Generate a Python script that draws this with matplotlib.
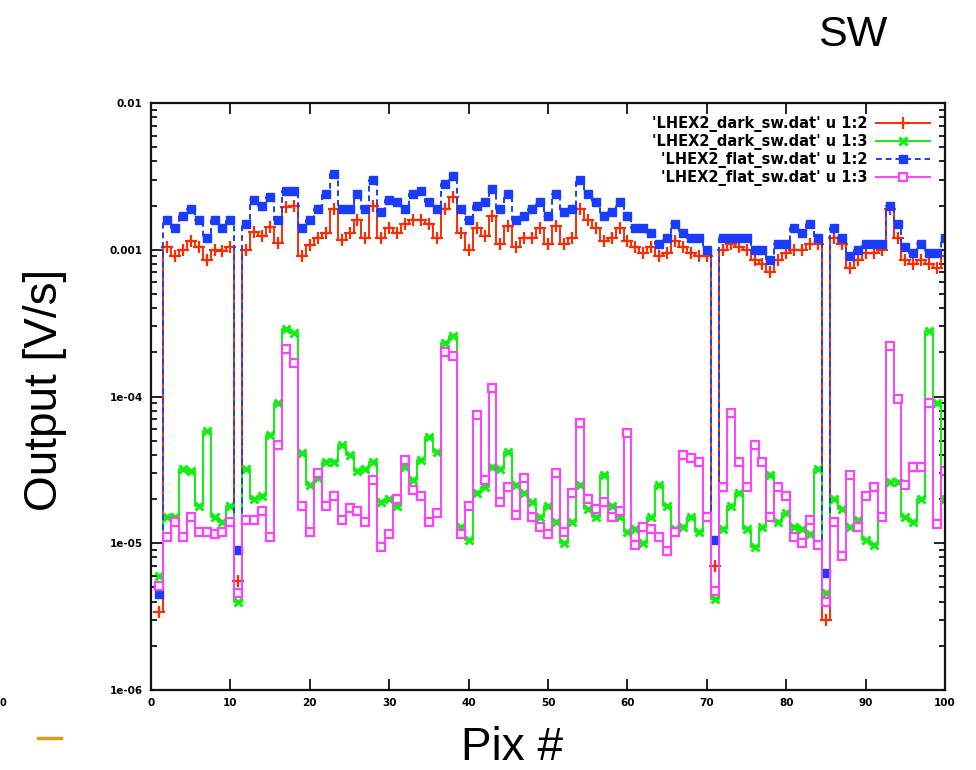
import numpy as np
import matplotlib
matplotlib.use("Agg")
import matplotlib.pyplot as plt
from matplotlib.ticker import FixedLocator, FixedFormatter, LogLocator, NullFormatter
from matplotlib.lines import Line2D

# Pixel index along the detector
pix = np.arange(1, 101)

# 'LHEX2_dark_sw.dat' column 2
dark_col2 = [3.4e-6, 1.05e-3, 0.90e-3, 1.00e-3, 1.15e-3, 1.05e-3, 0.85e-3, 1.00e-3, 0.98e-3, 1.05e-3,
             5.5e-6, 1.00e-3, 1.32e-3, 1.25e-3, 1.43e-3, 1.11e-3, 1.96e-3, 2.00e-3, 0.90e-3, 1.08e-3,
             1.20e-3, 1.30e-3, 1.90e-3, 1.17e-3, 1.30e-3, 1.60e-3, 1.20e-3, 2.00e-3, 1.20e-3, 1.40e-3,
             1.30e-3, 1.50e-3, 1.60e-3, 1.60e-3, 1.50e-3, 1.20e-3, 1.90e-3, 2.30e-3, 1.30e-3, 1.00e-3,
             1.40e-3, 1.25e-3, 1.70e-3, 1.10e-3, 1.45e-3, 1.05e-3, 1.20e-3, 1.20e-3, 1.40e-3, 1.10e-3,
             1.45e-3, 1.10e-3, 1.20e-3, 1.90e-3, 1.60e-3, 1.40e-3, 1.15e-3, 1.20e-3, 1.40e-3, 1.15e-3,
             1.05e-3, 0.95e-3, 1.05e-3, 0.90e-3, 0.95e-3, 1.15e-3, 1.05e-3, 0.95e-3, 0.90e-3, 0.90e-3,
             7.0e-6, 1.00e-3, 1.10e-3, 1.05e-3, 1.00e-3, 0.85e-3, 0.80e-3, 0.70e-3, 0.85e-3, 0.95e-3,
             1.00e-3, 1.00e-3, 1.10e-3, 1.10e-3, 3.0e-6, 1.20e-3, 1.10e-3, 0.75e-3, 0.85e-3, 0.95e-3,
             0.95e-3, 1.00e-3, 1.90e-3, 1.20e-3, 0.85e-3, 0.80e-3, 0.85e-3, 0.80e-3, 0.75e-3, 0.90e-3]

# 'LHEX2_dark_sw.dat' column 3
dark_col3 = [6.0e-6, 1.5e-5, 1.5e-5, 3.2e-5, 3.1e-5, 1.8e-5, 5.8e-5, 1.5e-5, 1.4e-5, 1.8e-5,
             4.0e-6, 3.2e-5, 2.0e-5, 2.1e-5, 5.5e-5, 9.0e-5, 2.9e-4, 2.7e-4, 4.1e-5, 2.5e-5,
             2.8e-5, 3.6e-5, 3.6e-5, 4.7e-5, 4.0e-5, 3.1e-5, 3.2e-5, 3.6e-5, 1.9e-5, 2.0e-5,
             1.8e-5, 3.3e-5, 2.7e-5, 3.7e-5, 5.3e-5, 4.2e-5, 2.3e-4, 2.6e-4, 1.3e-5, 1.05e-5,
             2.2e-5, 2.4e-5, 3.3e-5, 3.2e-5, 4.2e-5, 2.5e-5, 2.2e-5, 1.9e-5, 1.5e-5, 1.8e-5,
             1.4e-5, 1.0e-5, 1.4e-5, 2.5e-5, 1.7e-5, 1.5e-5, 2.9e-5, 1.8e-5, 1.5e-5, 1.2e-5,
             1.25e-5, 1.0e-5, 1.5e-5, 2.5e-5, 1.8e-5, 1.25e-5, 1.3e-5, 1.5e-5, 1.2e-5, 1.5e-5,
             4.2e-6, 1.25e-5, 1.8e-5, 2.2e-5, 1.25e-5, 9.5e-6, 1.3e-5, 2.9e-5, 1.4e-5, 1.6e-5,
             1.3e-5, 1.25e-5, 1.15e-5, 3.2e-5, 4.6e-6, 2.0e-5, 1.7e-5, 1.3e-5, 1.45e-5, 1.05e-5,
             9.8e-6, 1.5e-5, 2.6e-5, 2.6e-5, 1.5e-5, 1.4e-5, 2.0e-5, 2.8e-4, 9.0e-5, 2.0e-5]

# 'LHEX2_flat_sw.dat' column 2
flat_col2 = [4.5e-6, 1.6e-3, 1.4e-3, 1.7e-3, 1.9e-3, 1.6e-3, 1.2e-3, 1.6e-3, 1.4e-3, 1.6e-3,
             9.0e-6, 1.5e-3, 2.2e-3, 2.0e-3, 2.3e-3, 1.6e-3, 2.5e-3, 2.5e-3, 1.4e-3, 1.6e-3,
             1.9e-3, 2.4e-3, 3.3e-3, 1.9e-3, 1.9e-3, 2.4e-3, 1.9e-3, 3.0e-3, 1.8e-3, 2.2e-3,
             2.1e-3, 1.9e-3, 2.4e-3, 2.5e-3, 2.1e-3, 1.9e-3, 2.8e-3, 3.2e-3, 1.9e-3, 1.6e-3,
             2.0e-3, 2.1e-3, 2.6e-3, 1.9e-3, 2.4e-3, 1.6e-3, 1.7e-3, 1.9e-3, 2.1e-3, 1.7e-3,
             2.4e-3, 1.8e-3, 1.9e-3, 3.0e-3, 2.4e-3, 2.1e-3, 1.7e-3, 1.8e-3, 2.1e-3, 1.7e-3,
             1.4e-3, 1.4e-3, 1.3e-3, 1.1e-3, 1.2e-3, 1.5e-3, 1.3e-3, 1.2e-3, 1.2e-3, 1.0e-3,
             1.05e-5, 1.2e-3, 1.2e-3, 1.2e-3, 1.2e-3, 1.0e-3, 1.0e-3, 0.85e-3, 1.1e-3, 1.1e-3,
             1.4e-3, 1.3e-3, 1.5e-3, 1.2e-3, 6.3e-6, 1.4e-3, 1.2e-3, 0.9e-3, 1.0e-3, 1.1e-3,
             1.1e-3, 1.1e-3, 2.0e-3, 1.5e-3, 1.05e-3, 0.95e-3, 1.1e-3, 0.95e-3, 0.95e-3, 1.2e-3]

# 'LHEX2_flat_sw.dat' column 3
flat_col3 = [5.1e-6, 1.1e-5, 1.4e-5, 1.1e-5, 1.5e-5, 1.2e-5, 1.2e-5, 1.15e-5, 1.2e-5, 1.4e-5,
             4.6e-6, 1.45e-5, 1.45e-5, 1.65e-5, 1.1e-5, 4.7e-5, 2.1e-4, 1.7e-4, 1.8e-5, 1.2e-5,
             3.0e-5, 1.8e-5, 2.1e-5, 1.45e-5, 1.75e-5, 1.65e-5, 1.4e-5, 2.7e-5, 9.5e-6, 1.15e-5,
             2.0e-5, 3.7e-5, 2.3e-5, 2.1e-5, 1.4e-5, 1.6e-5, 2.0e-4, 1.9e-4, 1.15e-5, 1.8e-5,
             7.5e-5, 2.7e-5, 1.15e-4, 1.9e-5, 2.4e-5, 1.55e-5, 2.8e-5, 1.5e-5, 1.3e-5, 1.15e-5,
             3.0e-5, 1.2e-5, 2.2e-5, 6.6e-5, 2.0e-5, 1.7e-5, 1.9e-5, 1.5e-5, 1.65e-5, 5.6e-5,
             9.8e-6, 1.3e-5, 1.25e-5, 1.1e-5, 8.8e-6, 1.2e-5, 4.0e-5, 3.8e-5, 3.6e-5, 1.5e-5,
             4.7e-6, 2.4e-5, 7.7e-5, 3.6e-5, 2.4e-5, 4.7e-5, 3.6e-5, 1.5e-5, 2.4e-5, 2.1e-5,
             1.1e-5, 1.0e-5, 1.45e-5, 9.8e-6, 4.0e-6, 1.4e-5, 8.2e-6, 2.9e-5, 1.3e-5, 2.1e-5,
             2.4e-5, 1.5e-5, 2.2e-4, 9.6e-5, 2.5e-5, 3.3e-5, 3.3e-5, 9.0e-5, 1.35e-5, 3.1e-5]

labels = ["'LHEX2_dark_sw.dat' u 1:2", "'LHEX2_dark_sw.dat' u 1:3",
          "'LHEX2_flat_sw.dat' u 1:2", "'LHEX2_flat_sw.dat' u 1:3"]

y_ticks = [1e-6, 1e-5, 1e-4, 1e-3, 1e-2]
y_ticklabels = ["1e-06", "1e-05", "1e-04", "0.001", "0.01"]
x_ticks = [0, 10, 20, 30, 40, 50, 60, 70, 80, 90, 100]

fig = plt.figure(figsize=(9.76, 7.70), dpi=100)
ax = fig.add_axes([0.1547, 0.1039, 0.8137, 0.7623])

styles = [
    dict(color="#ff2a00", ls="-", marker="+", ms=8, mew=1.6, mfc="none"),
    dict(color="#11ee11", ls="-", marker="x", ms=6, mew=2.2, mfc="none"),
    dict(color="#1a3cff", ls=(0, (3, 2)), marker="s", ms=6.0, mew=1.0, mfc="#1a3cff"),
    dict(color="#ff40ff", ls="-", marker="s", ms=6.2, mew=1.6, mfc="white"),
]
series = [dark_col2, dark_col3, flat_col2, flat_col3]

for vals, st, lab in zip(series, styles, labels):
    ax.plot(pix, vals, drawstyle="steps-mid", lw=1.4, label=lab,
            color=st["color"], ls=st["ls"], marker=st["marker"], ms=st["ms"],
            mew=st["mew"], mfc=st["mfc"], mec=st["color"])

ax.set_yscale("log")
ax.set_xlim(0, 100)
ax.set_ylim(1e-6, 1e-2)

ax.yaxis.set_major_locator(FixedLocator(y_ticks))
ax.yaxis.set_major_formatter(FixedFormatter(y_ticklabels))
ax.yaxis.set_minor_locator(LogLocator(base=10, subs=np.arange(2, 10)))
ax.yaxis.set_minor_formatter(NullFormatter())
ax.set_xticks(x_ticks)
ax.set_xticklabels([str(t) for t in x_ticks])

for s in ax.spines.values():
    s.set_linewidth(1.6)
    s.set_color("#111111")
ax.tick_params(which="both", direction="in", top=True, right=True, width=1.3, color="#111111")
ax.tick_params(which="major", length=8)
ax.tick_params(which="minor", length=4)
ax.tick_params(axis="both", labelsize=7.5, pad=6)
for t in ax.get_xticklabels() + ax.get_yticklabels():
    t.set_fontweight("bold")

leg_handles = []
for st, lab in zip(styles, labels):
    leg_handles.append(Line2D([], [], color=st["color"], ls=st["ls"], lw=1.4,
                              marker=st["marker"], ms=st["ms"], mew=st["mew"],
                              mfc=st["mfc"], mec=st["color"], label=lab))
leg = ax.legend(handles=leg_handles, loc="upper right", bbox_to_anchor=(0.992, 0.992),
                markerfirst=False, frameon=False, handlelength=3.7,
                prop=dict(size=10.5, weight="bold"),
                handletextpad=0.6, labelspacing=0.12, borderaxespad=0.2, numpoints=1)

fig.text(0.046, 0.4935, "Output [V/s]", rotation=90, ha="center", va="center",
         fontsize=33, family="Liberation Sans")
fig.text(0.525, 0.029, "Pix #", ha="center", va="center", fontsize=33,
         family="Liberation Sans")
fig.text(0.874, 0.955, "SW", ha="center", va="center", fontsize=31,
         family="Liberation Sans")

# remnants of neighbouring slide content
fig.text(0.0, 0.0865, "0", ha="left", va="center", fontsize=7, fontweight="bold")
fig.add_artist(Line2D([0.039, 0.062], [0.0416, 0.0416], color="#d4a017", lw=2.5,
                      transform=fig.transFigure))

fig.savefig("out.png", dpi=100)
